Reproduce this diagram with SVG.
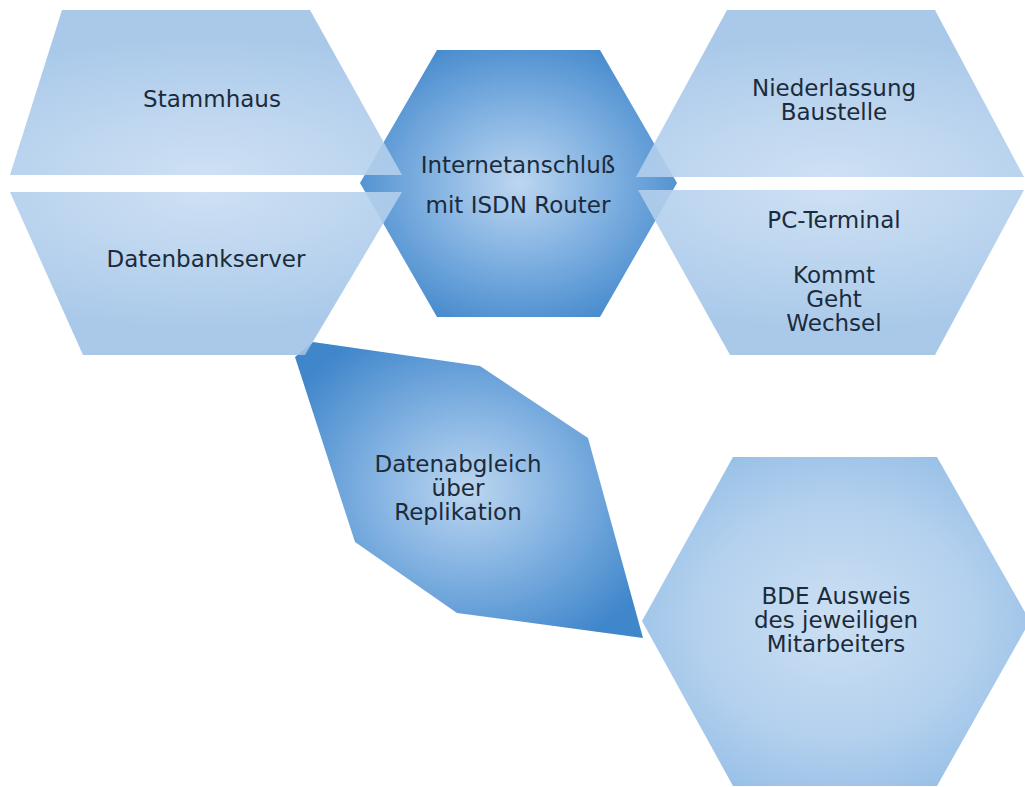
<svg xmlns="http://www.w3.org/2000/svg" width="1025" height="787" viewBox="0 0 1025 787">
  <defs>
    <radialGradient id="gLightTop" cx="50%" cy="100%" r="85%">
      <stop offset="0" stop-color="#c9ddf2"/>
      <stop offset="0.6" stop-color="#b1ceec"/>
      <stop offset="1" stop-color="#a0c3e7"/>
    </radialGradient>
    <radialGradient id="gLightBot" cx="50%" cy="0%" r="85%">
      <stop offset="0" stop-color="#c9ddf2"/>
      <stop offset="0.6" stop-color="#b1ceec"/>
      <stop offset="1" stop-color="#a0c3e7"/>
    </radialGradient>
    <radialGradient id="gDark" cx="50%" cy="50%" r="60%">
      <stop offset="0" stop-color="#bcd6f0"/>
      <stop offset="0.45" stop-color="#84b3e2"/>
      <stop offset="1" stop-color="#3f86cb"/>
    </radialGradient>
    <radialGradient id="gBDE" cx="50%" cy="50%" r="60%">
      <stop offset="0" stop-color="#c6dcf1"/>
      <stop offset="0.6" stop-color="#abcbec"/>
      <stop offset="1" stop-color="#88b7e3"/>
    </radialGradient>
  </defs>
  <style>
    .light { fill-opacity: 0.9; }
    .lbl { font-family: "DejaVu Sans", Verdana, sans-serif; font-size: 23px; fill: #1c2b3b; text-anchor: middle; }
  </style>
  <rect width="1025" height="787" fill="#ffffff"/>

  <g id="connectors"></g>

  <g id="internet">
    <polygon points="437,50 600,50 677,183 600,317 437,317 360,183" fill="url(#gDark)"/>
  </g>
  <g id="datenabgleich">
    <polygon points="295,357 313,342 480,366 588,438 643,638 457,613 355,542" fill="url(#gDark)"/>
  </g>

  <g id="stammhaus">
    <polygon class="light" points="62,10 310,10 402,175 10,175" fill="url(#gLightTop)"/>
    <text class="lbl" x="212" y="107">Stammhaus</text>
  </g>
  <g id="datenbankserver">
    <polygon class="light" points="10,192 402,192 305,355 83,355" fill="url(#gLightBot)"/>
    <text class="lbl" x="206" y="267">Datenbankserver</text>
  </g>
  <g id="niederlassung">
    <polygon class="light" points="727,10 935,10 1024,177 636,177" fill="url(#gLightTop)"/>
    <text class="lbl" x="834" y="96">Niederlassung</text>
    <text class="lbl" x="834" y="120">Baustelle</text>
  </g>
  <g id="pc-terminal">
    <polygon class="light" points="638,190 1024,190 935,355 730,355" fill="url(#gLightBot)"/>
    <text class="lbl" x="834" y="228">PC-Terminal</text>
    <text class="lbl" x="834" y="283">Kommt</text>
    <text class="lbl" x="834" y="307">Geht</text>
    <text class="lbl" x="834" y="331">Wechsel</text>
  </g>
  <g id="bde">
    <polygon class="light" points="733,457 937,457 1030,621 937,786 733,786 642,621" fill="url(#gBDE)"/>
    <text class="lbl" x="836" y="604">BDE Ausweis</text>
    <text class="lbl" x="836" y="628">des jeweiligen</text>
    <text class="lbl" x="836" y="652">Mitarbeiters</text>
  </g>

  <g id="internet-label">
    <text class="lbl" x="518" y="173">Internetanschluß</text>
    <text class="lbl" x="518" y="213">mit ISDN Router</text>
  </g>
  <g id="datenabgleich-label">
    <text class="lbl" x="458" y="472">Datenabgleich</text>
    <text class="lbl" x="458" y="496">über</text>
    <text class="lbl" x="458" y="520">Replikation</text>
  </g>
</svg>
